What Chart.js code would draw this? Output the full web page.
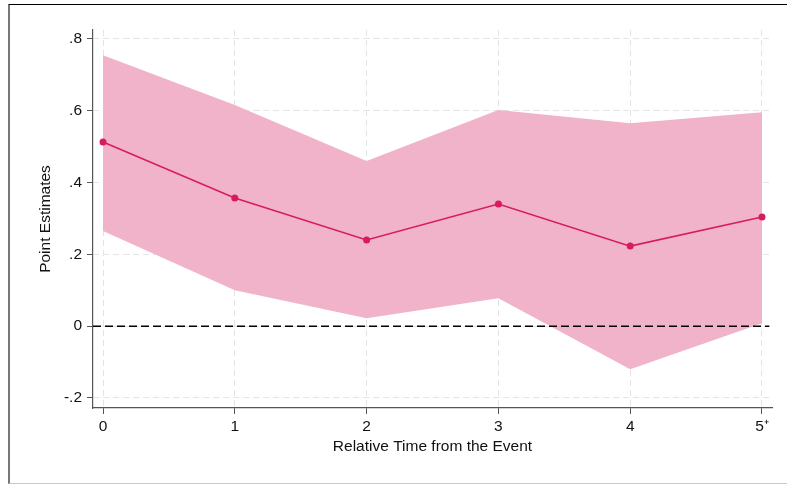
<!DOCTYPE html>
<html>
<head>
<meta charset="utf-8">
<script src="https://cdn.jsdelivr.net/npm/chart.js@4"></script>
<style>
    html, body { margin: 0; padding: 0; background: #fff; }
    body { width: 787px; height: 484px; position: relative; overflow: hidden; }
    #moldura {
        position: absolute; left: 8px; top: 4px; width: 800px; height: 478px;
        border-top: 1px solid #000; border-left: 2px solid #777; border-bottom: 1px solid #c8c8c8;
    }
    #grafico { position: absolute; left: 0; top: 0; }
</style>
</head>
<body>
<div id="moldura"></div>
<canvas id="grafico" width="787" height="484"></canvas>
<script>
// dados
const tempos = [0, 1, 2, 3, 4, 5];
const estimativas = [0.513, 0.357, 0.240, 0.340, 0.223, 0.304];
const limiteSuperior = [0.755, 0.616, 0.460, 0.602, 0.565, 0.596];
const limiteInferior = [0.265, 0.100, 0.022, 0.078, -0.120, 0.008];

const xTicks = [0, 1, 2, 3, 4, 5];
const xTickLabels = ["0", "1", "2", "3", "4", "5\u207A"];
const yTicks = [-0.2, 0, 0.2, 0.4, 0.6, 0.8];
const yTickLabels = ["-.2", "0", ".2", ".4", ".6", ".8"];

const X_MIN = -0.076, X_MAX = 5.076;
const Y_MIN = -0.228, Y_MAX = 0.825;

const pontos = arr => tempos.map((t, i) => ({ x: t, y: arr[i] }));

const fonte = { family: "'Liberation Sans', Arial, sans-serif", size: 15.5 };

new Chart(document.getElementById("grafico"), {
    type: "line",
    data: {
        datasets: [
            {
                label: "Point Estimates",
                data: pontos(estimativas),
                borderColor: "#d81b5c",
                backgroundColor: "#d81b5c",
                borderWidth: 1.5,
                pointRadius: 3.5,
                pointBorderWidth: 0,
                fill: false
            },
            {
                label: "zero",
                data: [{ x: X_MIN, y: 0 }, { x: X_MAX - 0.02, y: 0 }],
                borderColor: "#000",
                borderWidth: 1.5,
                borderDash: [8, 4],
                pointRadius: 0,
                fill: false
            },
            {
                label: "upper",
                data: pontos(limiteSuperior),
                borderWidth: 0,
                borderColor: "rgba(0,0,0,0)",
                backgroundColor: "#f0b3c9",
                pointRadius: 0,
                fill: "+1"
            },
            {
                label: "lower",
                data: pontos(limiteInferior),
                borderWidth: 0,
                borderColor: "rgba(0,0,0,0)",
                pointRadius: 0,
                fill: false
            }
        ]
    },
    options: {
        responsive: false,
        animation: false,
        layout: { padding: { top: 30, right: 15, left: 0, bottom: 0 } },
        plugins: { legend: { display: false }, tooltip: { enabled: false } },
        scales: {
            x: {
                type: "linear",
                min: X_MIN,
                max: X_MAX,
                afterBuildTicks: s => { s.ticks = xTicks.map(v => ({ value: v })); },
                afterFit: s => { s.height = 76; },
                ticks: {
                    font: fonte, color: "#111", padding: 3, maxRotation: 0,
                    callback: (v, i) => xTickLabels[i]
                },
                grid: { color: "#e4e4e4", tickColor: "#555", tickLength: 6, lineWidth: 1 },
                border: { display: true, color: "#555", width: 1.2, dash: [6, 4] },
                title: {
                    display: true, text: "Relative Time from the Event",
                    font: fonte, color: "#111", padding: { top: 0, bottom: 27.7 }
                }
            },
            y: {
                type: "linear",
                min: Y_MIN,
                max: Y_MAX,
                afterBuildTicks: s => { s.ticks = yTicks.map(v => ({ value: v })); },
                afterFit: s => { s.width = 93; },
                ticks: {
                    font: fonte, color: "#111", padding: 5,
                    callback: (v, i) => yTickLabels[i]
                },
                grid: { color: "#e4e4e4", tickColor: "#555", tickLength: 6, lineWidth: 1 },
                border: { display: true, color: "#555", width: 1.2, dash: [6, 4] },
                title: {
                    display: true, text: "Point Estimates",
                    font: fonte, color: "#111", padding: { top: 36.7, bottom: 0 }
                }
            }
        }
    }
});
</script>
</body>
</html>
